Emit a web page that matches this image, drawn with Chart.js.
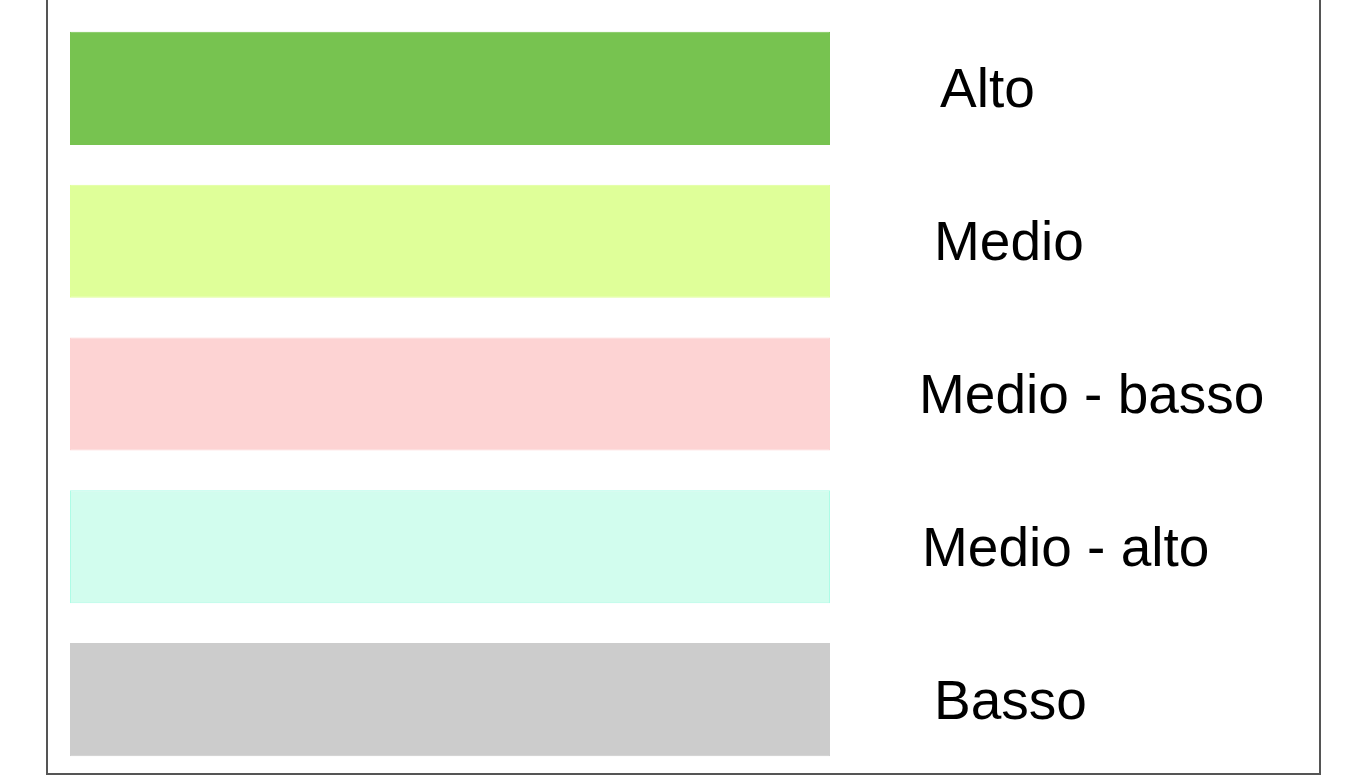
<!DOCTYPE html>
<html>
<head>
<meta charset="utf-8">
<script src="https://cdn.jsdelivr.net/npm/chart.js@4.4.0/dist/chart.umd.min.js"></script>
<style>
  html, body { margin: 0; padding: 0; background: #fff; }
  #wrap { width: 1349px; height: 776px; }
</style>
</head>
<body>
<div id="wrap"><canvas id="myBarChart"></canvas></div>
<script>
// categories and values (all bars have the same length)
const categories = ['Alto', 'Medio', 'Medio - basso', 'Medio - alto', 'Basso'];
const values = [1, 1, 1, 1, 1];
const barColors = ['#77c350', '#dfff99', '#fdd3d3', '#d2fdee', '#cccccc'];
const borderColors = ['#77c350', '#dfff99', '#fdd3d3', '#aefce6', '#cccccc'];
// left edge of each text, in pixels
const labelLeft = [940, 934, 919, 922, 934];

// draws the outer frame and the text next to each bar
const labelPlugin = {
    id: 'labelPlugin',
    afterDraw(chart) {
        const c = chart.ctx;
        c.save();
        c.strokeStyle = '#555555';
        c.lineWidth = 2;
        c.beginPath();
        c.moveTo(47, 0);
        c.lineTo(47, 774);
        c.lineTo(1320, 774);
        c.lineTo(1320, 0);
        c.stroke();

        c.fillStyle = '#000';
        c.font = '55px "Liberation Sans", Arial, sans-serif';
        c.textAlign = 'left';
        c.textBaseline = 'alphabetic';
        const meta = chart.getDatasetMeta(0);
        meta.data.forEach((bar, i) => {
            c.fillText(categories[i], labelLeft[i], bar.y + 19);
        });
        c.restore();
    }
};

const ctx = document.getElementById('myBarChart');
new Chart(ctx.getContext('2d'), {
    type: 'bar',
    data: {
        labels: categories,
        datasets: [{
            data: values,
            backgroundColor: barColors,
            borderColor: borderColors,
            borderWidth: 1,
            borderSkipped: false,
            barPercentage: 0.74,
            categoryPercentage: 1
        }]
    },
    options: {
        indexAxis: 'y',
        responsive: true,
        maintainAspectRatio: false,
        animation: false,
        layout: { padding: { left: 70, right: 519, top: 12, bottom: 0 } },
        plugins: { legend: { display: false }, tooltip: { enabled: false } },
        scales: {
            x: { display: false, min: 0, max: 1 },
            y: { display: false }
        }
    },
    plugins: [labelPlugin]
});
</script>
</body>
</html>
